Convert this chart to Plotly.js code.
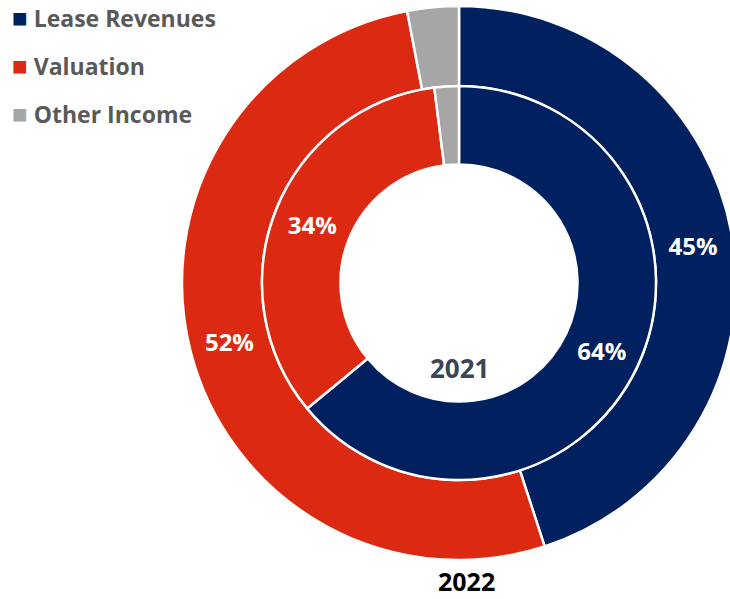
<!DOCTYPE html>
<html>
<head>
<meta charset="utf-8">
<script src="https://cdn.plot.ly/plotly-3.0.1.min.js"></script>
<style>
html,body{margin:0;padding:0;overflow:hidden;background:#fff;}
#chart{width:760px;height:599px;}
</style>
</head>
<body>
<div id="chart"></div>
<script>
// ---- data ----
const categories = ["Lease Revenues", "Valuation", "Other Income"];
const values2022 = [45, 52, 3];
const values2021 = [64, 34, 2];
const yearLabels = ["2022", "2021"];
const colors = ["#002060", "#DC2912", "#A6A6A6"];

// ---- layout constants (pixels) ----
const W = 760, H = 599;
const cx = 459, cy = 283;
const rOuter = 277, rMid = 197, rHole = 118.5;
const FONT = "'Open Sans', Lato, sans-serif";

function domainFor(r) {
  return {
    x: [(cx - r) / W, (cx + r) / W],
    y: [1 - (cy + r) / H, 1 - (cy - r) / H]
  };
}

const labelTpl = (vals) => vals.map(v => v >= 5 ? "%{percent:.0%}" : "");

const common = {
  type: "pie",
  labels: categories,
  sort: false,
  direction: "clockwise",
  rotation: 0,
  marker: { colors: colors, line: { color: "#ffffff", width: 2.5 } },
  textposition: "inside",
  insidetextorientation: "horizontal",
  insidetextfont: { family: FONT, size: 24, color: "#ffffff", weight: 700 },
  hoverinfo: "label+percent",
  showlegend: false
};

const outer = Object.assign({}, common, {
  name: yearLabels[0],
  values: values2022,
  texttemplate: labelTpl(values2022),
  hole: rMid / rOuter,
  domain: domainFor(rOuter)
});

const inner = Object.assign({}, common, {
  name: yearLabels[1],
  values: values2021,
  texttemplate: labelTpl(values2021),
  hole: rHole / rMid,
  domain: domainFor(rMid)
});

const legendRowsY = [17, 65, 113];
const annotations = categories.map((c, i) => ({
  xref: "paper", yref: "paper",
  x: 10 / W, y: 1 - legendRowsY[i] / H,
  xanchor: "left", yanchor: "middle",
  showarrow: false,
  text: "<span style='color:" + colors[i] + ";font-size:26px'>■</span> " + c,
  font: { family: FONT, size: 23, color: "#595959", weight: 700 }
}));

annotations.push({
  xref: "paper", yref: "paper",
  x: 459 / W, y: 1 - 368 / H,
  xanchor: "center", yanchor: "middle", showarrow: false,
  text: yearLabels[1],
  font: { family: FONT, size: 26, color: "#3B4556", weight: 700 }
});
annotations.push({
  xref: "paper", yref: "paper",
  x: 466 / W, y: 1 - 581 / H,
  xanchor: "center", yanchor: "middle", showarrow: false,
  borderpad: 0,
  text: yearLabels[0],
  font: { family: FONT, size: 25, color: "#000000", weight: 700 }
});

const layout = {
  width: W, height: H,
  margin: { l: 0, r: 0, t: 0, b: 0, pad: 0 },
  paper_bgcolor: "#ffffff",
  showlegend: false,
  annotations: annotations
};

Plotly.newPlot("chart", [outer, inner], layout, { displayModeBar: false, staticPlot: true });
</script>
</body>
</html>
